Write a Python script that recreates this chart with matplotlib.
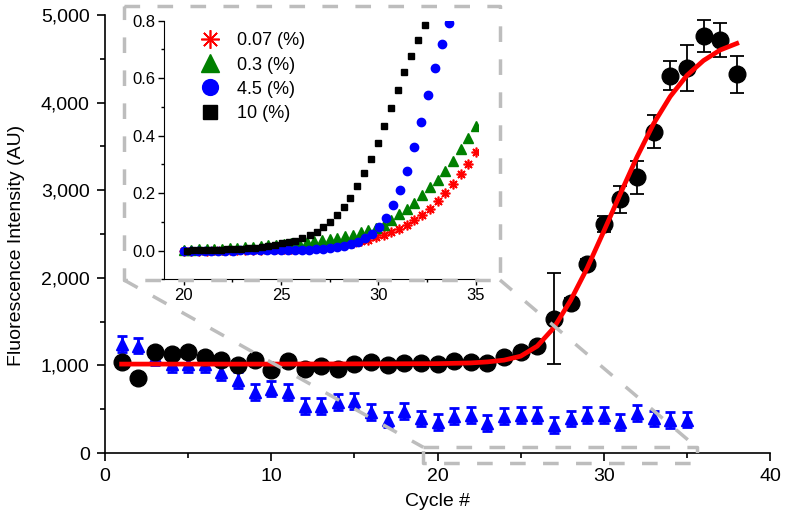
import matplotlib
matplotlib.use("Agg")
import matplotlib.pyplot as plt
from matplotlib.lines import Line2D
from matplotlib.ticker import FuncFormatter, MultipleLocator

plt.rcParams['font.family'] = ['Liberation Sans', 'DejaVu Sans']

# main panel: signal (black) and control (blue), cycles 1..38 / 1..35
cycles = list(range(1, 39))
signal = [1037, 852, 1151, 1133, 1151, 1094, 1057, 1000, 1057, 943,
          1050, 962, 989, 962, 1011, 1037, 1000, 1030, 1030, 1019,
          1049, 1037, 1030, 1094, 1151, 1216, 1531, 1709, 2156, 2610,
          2894, 3148, 3670, 4307, 4398, 4758, 4712, 4322]
signal_err = [25] * 26 + [520, 60, 60, 90, 150, 190, 190, 165, 260, 185, 195, 210]

ctrl_cycles = list(range(1, 36))
ctrl = [1247, 1227, 1094, 1019, 1019, 1019, 924, 830, 697, 735,
        697, 534, 534, 583, 591, 469, 382, 481, 395, 356,
        420, 432, 345, 420, 432, 432, 318, 395, 432, 432,
        356, 458, 395, 375, 382]
ctrl_err = [90] * 35

# sigmoid fit
fit_x = [1, 10, 20, 22, 23, 24, 25, 26, 27, 28, 29, 30, 31, 32, 33, 34, 35, 36, 37, 38]
fit_y = [1015, 1015, 1020, 1028, 1040, 1060, 1105, 1220, 1430, 1740, 2110, 2530,
         2960, 3380, 3760, 4070, 4310, 4480, 4600, 4675]

# inset series
x_low = [20.0, 20.39, 20.79, 21.18, 21.58, 21.97, 22.37, 22.76, 23.16, 23.55,
         23.95, 24.34, 24.74, 25.13, 25.53, 25.92, 26.32, 26.71, 27.11, 27.50,
         27.89, 28.29, 28.68, 29.08, 29.47, 29.87, 30.26, 30.66, 31.05, 31.45,
         31.84, 32.24, 32.63, 33.03, 33.42, 33.82, 34.21, 34.61, 35.0]
y_007 = [0.0, 0.0, 0.0, 0.0, 0.001, 0.001, 0.001, 0.002, 0.002, 0.003,
         0.003, 0.004, 0.005, 0.006, 0.007, 0.008, 0.010, 0.012, 0.014, 0.017,
         0.020, 0.024, 0.028, 0.032, 0.037, 0.047, 0.054, 0.065, 0.076, 0.090,
         0.105, 0.124, 0.145, 0.172, 0.202, 0.232, 0.267, 0.302, 0.344]
y_03 = [0.002, 0.003, 0.004, 0.005, 0.006, 0.007, 0.009, 0.010, 0.012, 0.014,
        0.016, 0.018, 0.020, 0.022, 0.025, 0.028, 0.031, 0.034, 0.037, 0.041,
        0.045, 0.049, 0.055, 0.063, 0.070, 0.078, 0.090, 0.108, 0.126, 0.146,
        0.167, 0.192, 0.220, 0.247, 0.278, 0.313, 0.354, 0.393, 0.434]

x_45 = [20.0, 20.36, 20.72, 21.08, 21.43, 21.79, 22.15, 22.51, 22.87, 23.23,
        23.58, 23.94, 24.30, 24.66, 25.02, 25.38, 25.73, 26.09, 26.45, 26.81,
        27.17, 27.53, 27.88, 28.24, 28.60, 28.96, 29.32, 29.68, 30.03, 30.39,
        30.75, 31.11, 31.47, 31.83, 32.19, 32.54, 32.90, 33.26, 33.62]
y_45 = [0.0, 0.0, 0.0, 0.0, 0.0, 0.0, 0.0, 0.0, 0.001, 0.001,
        0.001, 0.001, 0.001, 0.001, 0.001, 0.001, 0.002, 0.002, 0.003, 0.004,
        0.006, 0.008, 0.012, 0.016, 0.023, 0.031, 0.042, 0.059, 0.081, 0.114,
        0.157, 0.211, 0.278, 0.362, 0.449, 0.542, 0.634, 0.718, 0.791]

x_10 = [20.15, 20.50, 20.85, 21.20, 21.55, 21.90, 22.25, 22.60, 22.95, 23.30,
        23.65, 24.00, 24.35, 24.70, 25.05, 25.40, 25.74, 26.10, 26.48, 26.82,
        27.16, 27.50, 27.88, 28.22, 28.56, 28.91, 29.25, 29.59, 29.95, 30.27,
        30.65, 30.99, 31.33, 31.68, 32.02, 32.37]
y_10 = [0.0, 0.001, 0.001, 0.002, 0.002, 0.003, 0.004, 0.005, 0.006, 0.008,
        0.010, 0.013, 0.016, 0.020, 0.025, 0.030, 0.035, 0.043, 0.053, 0.066,
        0.081, 0.101, 0.124, 0.150, 0.184, 0.223, 0.269, 0.318, 0.374, 0.434,
        0.495, 0.559, 0.620, 0.677, 0.733, 0.785]

W, H = 786, 519
fig = plt.figure(figsize=(W / 100, H / 100), dpi=100)


def px_box(l, t, r, b):
    return [l / W, 1 - b / H, (r - l) / W, (b - t) / H]


def fig_dash(xs, ys):
    fig.add_artist(Line2D([x / W for x in xs], [1 - y / H for y in ys],
                          transform=fig.transFigure, color='#BDBDBD', lw=2.5,
                          dashes=(4.5, 5), solid_capstyle='butt', zorder=5))


# ---- main axes
ax = fig.add_axes(px_box(105, 15, 770, 453))
ax.plot(fit_x, fit_y, color='#FF0000', lw=3.4, zorder=4)
ax.errorbar(cycles, signal, yerr=signal_err, fmt='o', color='black', ms=12,
            ecolor='black', elinewidth=1.3, capsize=5, capthick=1.3, zorder=3)
ax.errorbar(ctrl_cycles, ctrl, yerr=ctrl_err, fmt='^', color='#0000FF', ms=9,
            ecolor='#0000FF', elinewidth=2, capsize=3.5, capthick=2, zorder=2)

ax.set_xlim(0, 40)
ax.set_ylim(0, 5000)
ax.xaxis.set_major_locator(MultipleLocator(10))
ax.xaxis.set_minor_locator(MultipleLocator(5))
ax.yaxis.set_major_locator(MultipleLocator(1000))
ax.yaxis.set_minor_locator(MultipleLocator(500))
ax.yaxis.set_major_formatter(FuncFormatter(lambda v, p: f'{v:,.0f}'))
for s in ['top', 'right']:
    ax.spines[s].set_visible(False)
for s in ['left', 'bottom']:
    ax.spines[s].set_linewidth(1.2)
ax.tick_params(which='major', direction='out', length=6, width=1.2, labelsize=14, pad=5)
ax.tick_params(which='minor', direction='out', length=3.5, width=1.2)
ax.set_xlabel('Cycle #', fontsize=14)
ax.set_ylabel('Fluorescence Intensity (AU)', fontsize=14)
ax.xaxis.set_label_coords(0.5, -0.092)
ax.yaxis.set_label_coords(-0.12, 0.475)

# ---- inset
axi = fig.add_axes(px_box(163.5, 20.7, 477.9, 279.3))
axi.patch.set_alpha(0)
axi.plot(x_low, y_007, ls='none', marker=(8, 2, 0), ms=7, mew=1.2, color='#FF0000',
         label='0.07 (%)')
axi.plot(x_low, y_03, ls='none', marker='^', ms=6.5, color='#008000', label='0.3 (%)')
axi.plot(x_45, y_45, ls='none', marker='o', ms=6, color='#0000FF', label='4.5 (%)')
axi.plot(x_10, y_10, ls='none', marker='s', ms=5, color='black', label='10 (%)')
axi.set_xlim(18.97, 35.1)
axi.set_ylim(-0.1, 0.8)
axi.xaxis.set_major_locator(MultipleLocator(5))
axi.xaxis.set_minor_locator(MultipleLocator(2.5))
axi.yaxis.set_major_locator(MultipleLocator(0.2))
axi.yaxis.set_minor_locator(MultipleLocator(0.1))
axi.yaxis.set_major_formatter(FuncFormatter(lambda v, p: f'{v:.1f}'))
for s in ['top', 'right']:
    axi.spines[s].set_visible(False)
axi.tick_params(which='major', direction='out', length=4, width=1, labelsize=12, pad=2)
axi.tick_params(which='minor', direction='out', length=2.5, width=1)
axi.legend(loc='upper left', bbox_to_anchor=(0.12, 0.955), frameon=False,
           fontsize=13, markerscale=1.9, handlelength=1.0, handletextpad=1.0,
           labelspacing=0.4, borderpad=0, borderaxespad=0)

# ---- zoom indicator (dashed grey)
fig_dash([124, 500, 500, 124, 124], [5.7, 5.7, 280, 280, 5.7])
fig_dash([124, 423.3], [280, 447.3])
fig_dash([500, 696.7], [280, 447.3])
fig_dash([423.3, 696.7, 696.7, 423.3, 423.3], [447.3, 447.3, 463.3, 463.3, 447.3])

fig.savefig('out.png', dpi=100)
